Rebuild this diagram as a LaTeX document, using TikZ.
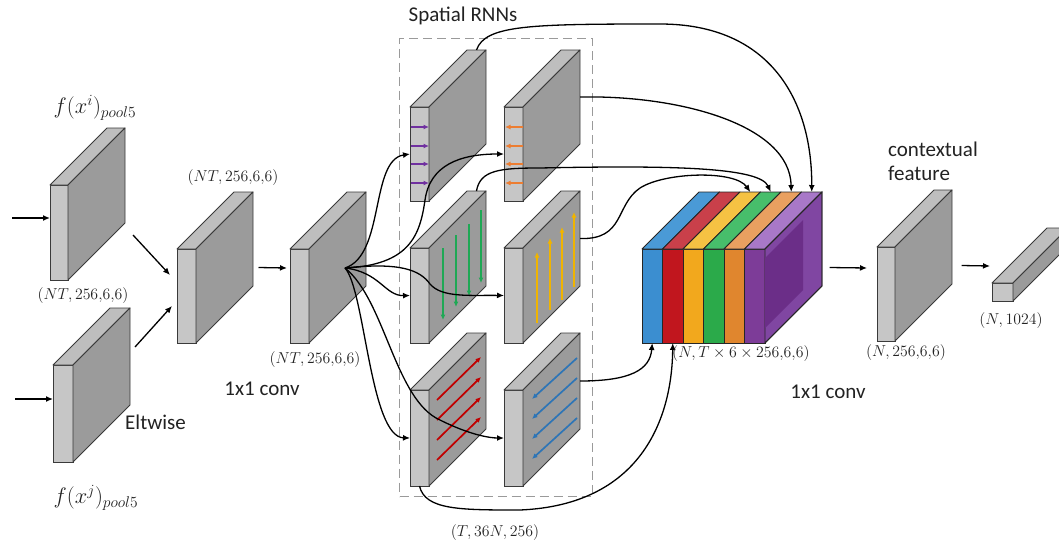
\documentclass[tikz,border=0pt]{standalone}
\usepackage{fontspec}
\setsansfont{Carlito}
\usetikzlibrary{arrows.meta,calc}
\definecolor{pfront}{HTML}{C6C6C6}
\definecolor{ptop}{HTML}{BEBEBE}
\definecolor{pside}{HTML}{9B9B9B}
\definecolor{pedge}{HTML}{3A3A3A}
\definecolor{dashc}{HTML}{9A9A9A}
\definecolor{cpurple}{HTML}{7030A0}
\definecolor{corange}{HTML}{ED7D31}
\definecolor{cgreen}{HTML}{1FA855}
\definecolor{cyellow}{HTML}{F0B400}
\definecolor{cred}{HTML}{C00000}
\definecolor{cblue}{HTML}{2E75B6}
\definecolor{sBlue}{HTML}{3B8ED0}\definecolor{tBlue}{HTML}{4A9AD6}
\definecolor{sRed}{HTML}{C1161E}\definecolor{tRed}{HTML}{C9404A}
\definecolor{sYel}{HTML}{F2A81D}\definecolor{tYel}{HTML}{F5C243}
\definecolor{sGrn}{HTML}{2BAA4A}\definecolor{tGrn}{HTML}{47BE6B}
\definecolor{sOra}{HTML}{E0862E}\definecolor{tOra}{HTML}{E9A060}
\definecolor{sPur}{HTML}{7D3C98}\definecolor{tPur}{HTML}{A878C8}
\definecolor{sidePur}{HTML}{8046A2}\definecolor{innerPur}{HTML}{6B2E88}
\definecolor{txtc}{HTML}{222222}
\tikzset{
  frontface/.style={draw=pedge, fill=pfront, line width=0.9pt, inner sep=0pt, outer sep=0pt, rectangle},
  topface/.style={draw=pedge, fill=ptop, line width=0.9pt, line join=round},
  sideface/.style={draw=pedge, fill=pside, line width=0.9pt, line join=round},
  conn/.style={line width=1.3pt, -{Latex[length=7pt,width=6pt]}},
  inarrow/.style={line width=1.7pt, -{Latex[length=5.5pt,width=5pt]}},
  mathlbl/.style={font=\Large, scale=1.1, inner sep=0pt, text=txtc},
  biglbl/.style={font=\huge, scale=1.08, inner sep=0pt, text=txtc},
  txt/.style={font=\sffamily\fontsize{21}{23}\selectfont, inner sep=0pt, text=txtc},
}
\newcommand\plate[6][57]{%
  \node[frontface, minimum width=#5pt, minimum height=#6pt, anchor=north west] (#2) at (#3,#4) {};
  \draw[topface] (#2.north west) -- ++(#1,-#1) -- ++(#5,0) -- (#2.north east) -- cycle;
  \draw[sideface] (#2.north east) -- ++(#1,-#1) -- ++(0,#6) -- (#2.south east) -- cycle;
  \coordinate (#2-bt) at ($(#2.north)+(#1,-#1)$);
  \coordinate (#2-br) at ($(#2.east)+(#1,-#1)$);
  \coordinate (#2-sc) at ($(#2.east)+(#1/2,-#1/2)$);
}
\newcommand\cslice[4]{%
  \node[frontface, draw=black!85, fill=#3, minimum width=20.5pt, minimum height=94pt, anchor=north west] (#1) at (#2,249) {};
  \draw[topface, draw=black!85, fill=#4] (#1.north west) -- ++(57,-57) -- ++(20.5,0) -- (#1.north east) -- cycle;
  \coordinate (#1-bt) at ($(#1.north)+(57,-57)$);
}
\begin{document}
\begin{tikzpicture}[x=1pt,y=-1pt]
\useasboundingbox (0,0) rectangle (1059,544);

% dashed box
\node[draw=dashc, dashed, dash pattern=on 9pt off 5pt, line width=1.2pt, minimum width=193pt, minimum height=458pt, anchor=north west, inner sep=0pt] (rnnbox) at (399,38) {};
\node[txt] (rnnlbl) at (463,16) {Spatial RNNs};

% input plates
\plate{b1}{50}{185}{18}{95}
\plate{b2}{53}{365}{20}{97}
\plate{b3}{177}{249}{19}{94}
\plate{b4}{290}{249}{19}{94}
\coordinate (hub) at (345,268);

% spatial RNN plates
\plate{A}{410}{107}{19}{94}
\plate{B}{504}{107}{19}{94}
\plate{C}{410}{248}{19}{95}
\plate{D}{504}{248}{19}{95}
\plate{E}{410}{390}{19}{96}
\plate{F}{504}{390}{19}{96}

% direction arrows inside plates
\foreach \y in {127,146,164,183}{
  \draw[inarrow, cpurple] (411,\y) -- (429,\y);
  \draw[inarrow, corange] (523,\y) -- (505,\y);
}
\draw[inarrow, cgreen] (443,248) -- (443,320);
\draw[inarrow, cgreen] (456,235) -- (456,307);
\draw[inarrow, cgreen] (469,224) -- (469,296);
\draw[inarrow, cgreen] (481,210) -- (481,283);
\draw[inarrow, cyellow] (537,323) -- (537,252);
\draw[inarrow, cyellow] (550,310) -- (550,238);
\draw[inarrow, cyellow] (562,300) -- (562,227);
\draw[inarrow, cyellow] (574,287) -- (574,212);
\foreach \d in {0,20,40,60}{
  \draw[inarrow, cred] (437,400+\d) -- (481,357+\d);
  \draw[inarrow, cblue] (577,358+\d) -- (532,399+\d);
}

% colored stack
\cslice{s1}{642}{sBlue}{tBlue}
\cslice{s2}{662.5}{sRed}{tRed}
\cslice{s3}{683}{sYel}{tYel}
\cslice{s4}{703.5}{sGrn}{tGrn}
\cslice{s5}{724}{sOra}{tOra}
\cslice{s6}{744.5}{sPur}{tPur}
\draw[sideface, draw=black!85, fill=sidePur] (s6.north east) -- ++(57,-57) -- ++(0,94) -- (s6.south east) -- cycle;
\fill[innerPur] ($(s6.north east)+(0,9)$) -- ++(38,-38) -- ++(0,70) -- ++(-38,38) -- cycle;
\draw[line width=0.9pt, draw=black!85] (s6.north east) -- ++(57,-57) -- ++(0,94) -- (s6.south east);
\coordinate (s6-sc) at ($(s6.east)+(28.5,-28.5)$);

% output plates
\plate{ctx}{877}{247}{18}{94}
\begin{scope}
\clip (0,0) rectangle (1059,544);
\plate[55]{bar}{992}{283}{21}{18}
\end{scope}

% inputs and first stage
\coordinate (in1) at (12,218);
\coordinate (in2) at (15,399);
\draw[conn] (in1) -- (in1 -| b1.west);
\draw[conn] (in2) -- (in2 -| b2.west);
\draw[conn] ($(b1.south east)+(65,-45)$) -- ($(b3.west)+(-7,-21)$);
\draw[conn] ($(b2.north east)+(62,-18)$) -- ($(b3.west)+(-5,10)$);
\draw[conn] ($(b3-sc)+(34,0)$) -- ($(b4.west)+(-3,-28)$);

% hub fan-out
\draw[conn] (hub) .. controls (385,255) and (370,160) .. (A.west);
\draw[conn] (hub) .. controls (410,265) and (420,235) .. (425,200) .. controls (430,165) and (460,154) .. (B.west);
\draw[conn] (hub) .. controls (380,272) and (385,296) .. (C.west);
\draw[conn] (hub) .. controls (400,262) and (420,270) .. (430,284) .. controls (442,298) and (470,295) .. (D.west);
\draw[conn] (hub) .. controls (365,290) and (370,437) .. (E.west);
\draw[conn] (hub) .. controls (385,300) and (395,400) .. (440,420) .. controls (470,435) and (490,438) .. (F.west);

% to colored stack
\draw[conn] (A-bt) .. controls (485,25) and (530,24) .. (660,24) .. controls (770,24) and (812,100) .. (s6-bt);
\draw[conn] (B-br) .. controls (680,95) and (790,125) .. (s5-bt);
\draw[conn] (C-bt) .. controls (480,170) and (500,168) .. (540,168) .. controls (680,165) and (760,168) .. (s4-bt);
\draw[conn] (D-br) .. controls (625,240) and (615,205) .. (640,188) .. controls (665,172) and (735,170) .. (s3-bt);
\draw[conn] (F-br) .. controls (630,381) and (650,370) .. (s1.south);
\draw[conn] (E.south) .. controls (425,510) and (460,510) .. (520,510) .. controls (640,505) and (672,420) .. (s2.south);

% output stage
\draw[conn] ($(s6-sc)+(36,0)$) -- ($(ctx.west)+(-10,-26)$);
\draw[conn] ($(ctx-sc)+(38,0)$) -- ($(bar.west)+(-2,-26)$);

% labels
\node[biglbl] (lfi) at (95,108) {$f(x^i)_{pool5}$};
\node[biglbl] (lfj) at (96,498) {$f(x^j)_{pool5}$};
\node[mathlbl] (l1) at (83,296) {$(NT,256{,}6{,}6)$};
\node[mathlbl] (l2) at (233,178) {$(NT,256{,}6{,}6)$};
\node[mathlbl] (l3) at (315,360) {$(NT,256{,}6{,}6)$};
\node[txt, anchor=west] (elt) at (125,422) {Eltwise};
\node[txt] (conv1) at (262,389) {1x1 conv};
\node[mathlbl] (l4) at (495,533) {$(T,36N,256)$};
\node[mathlbl, anchor=west] (l5) at (672,354) {$(N,T\times 6\times 256{,}6{,}6)$};
\node[txt] (conv2) at (828,392) {1x1 conv};
\node[txt, anchor=west] (ctx1) at (888,149) {contextual};
\node[txt, anchor=west] (ctx2) at (888,173) {feature};
\node[mathlbl] (l6) at (906,353) {$(N,256{,}6{,}6)$};
\node[mathlbl] (l7) at (1011,321) {$(N,1024)$};
\end{tikzpicture}
\end{document}
